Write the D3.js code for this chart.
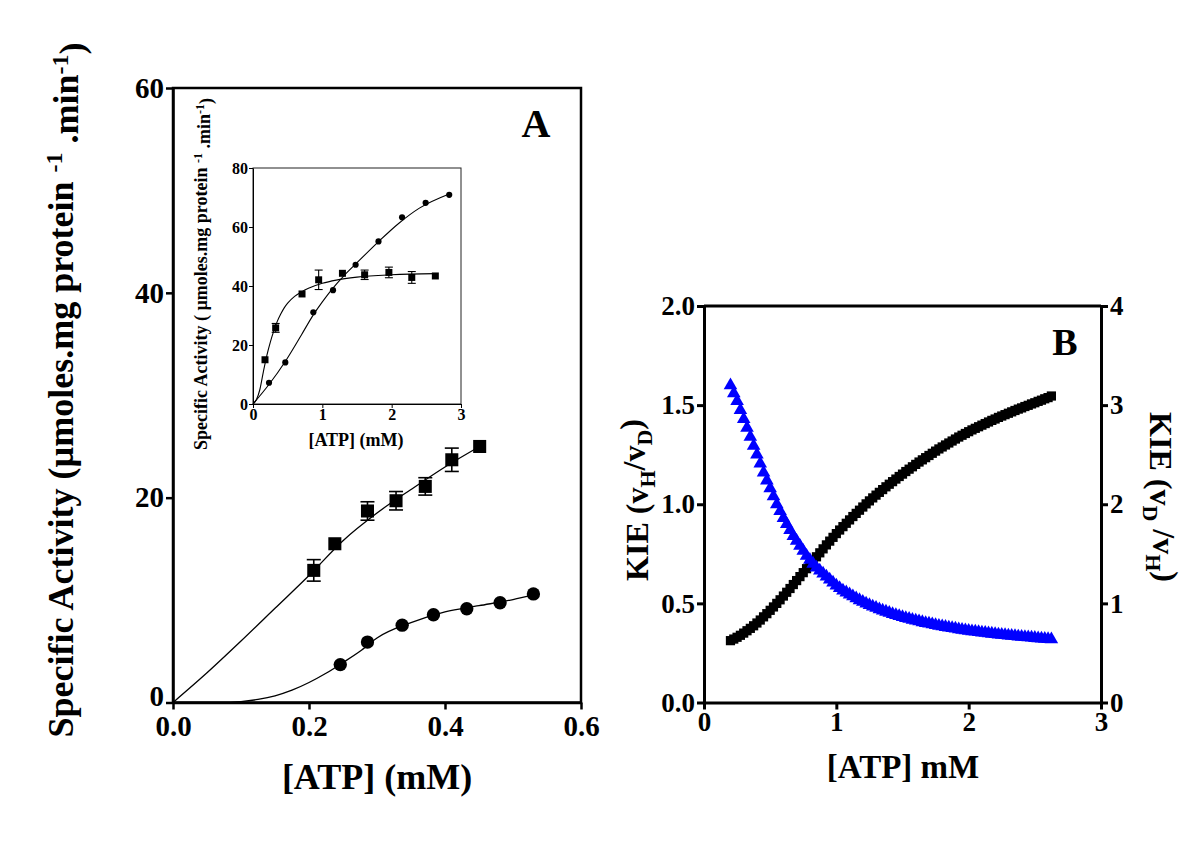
<!DOCTYPE html>
<html><head><meta charset="utf-8">
<script src="https://cdn.jsdelivr.net/npm/d3@7"></script>
<style>
body{margin:0;background:#fff}
svg{display:block}
text{font-family:"Liberation Serif","Times New Roman",serif;font-weight:bold;fill:#000}
</style>
</head><body>
<svg id="chart" width="1200" height="849"></svg>
<script>
// ---------- Panel A (main) ----------
const aSqX   = [0.207, 0.238, 0.286, 0.328, 0.371, 0.410, 0.451];
const aSqY   = [12.9, 15.5, 18.7, 19.7, 21.1, 23.7, 25.0];
const aSqErr = [1.05, 0, 0.9, 0.9, 0.85, 1.14, 0];
const aCiX   = [0.246, 0.286, 0.337, 0.383, 0.432, 0.481, 0.530];
const aCiY   = [3.7, 5.9, 7.55, 8.57, 9.15, 9.74, 10.6];
const aSqFitX = [0, 0.05, 0.10, 0.15, 0.20, 0.25, 0.30, 0.35, 0.40, 0.451];
const aSqFitY = [0, 2.9, 6.0, 9.2, 12.4, 15.8, 18.5, 20.8, 23.0, 25.0];
const aCiFitX = [0, 0.08, 0.10, 0.125, 0.15, 0.175, 0.20, 0.225, 0.25, 0.275, 0.30, 0.35, 0.40, 0.45, 0.50, 0.53];
const aCiFitY = [0, 0, 0.08, 0.3, 0.65, 1.2, 1.95, 2.85, 3.9, 5.0, 6.3, 7.8, 8.85, 9.45, 10.05, 10.5];
const aXTicks = [0, 0.2, 0.4, 0.6];
const aYTicks = [0, 20, 40, 60];

// ---------- Panel A (inset) ----------
const inSqX   = [0.173, 0.327, 0.707, 0.947, 1.29, 1.61, 1.96, 2.29, 2.63];
const inSqY   = [15.0, 25.8, 37.3, 42.1, 44.3, 43.8, 44.6, 42.9, 43.4];
const inSqErr = [0, 1.5, 0, 3.3, 0, 1.6, 1.8, 2.0, 0];
const inCiX   = [0.231, 0.466, 0.87, 1.154, 1.48, 1.81, 2.15, 2.49, 2.83];
const inCiY   = [7.2, 14.1, 31.1, 38.6, 47.2, 55.1, 63.3, 68.2, 70.9];
const inSqFitX = [0, 0.05, 0.10, 0.15, 0.20, 0.25, 0.30, 0.35, 0.40, 0.45, 0.50, 0.60, 0.70, 0.80, 1.0, 1.2, 1.5, 2.0, 2.63];
const inSqFitY = [0, 1.5, 5, 11, 16.5, 21, 24.8, 28, 30.5, 32.6, 34.2, 36.5, 38.0, 39.2, 40.9, 42.0, 43.0, 43.8, 44.2];
const inCiFitX = [0, 0.23, 0.47, 0.7, 0.87, 1.0, 1.15, 1.3, 1.5, 1.8, 2.1, 2.4, 2.83];
const inCiFitY = [0, 6.6, 14.6, 23.5, 30.2, 34.6, 39.2, 43.2, 47.9, 54.8, 61.2, 66.4, 71.2];
const inXTicks = [0, 1, 2, 3];
const inYTicks = [0, 20, 40, 60, 80];

// ---------- Panel B ----------
const bX = [0.200,0.225,0.250,0.275,0.300,0.325,0.350,0.375,0.400,0.425,0.450,0.475,0.500,0.525,0.550,0.575,0.600,0.625,0.650,0.675,0.700,0.725,0.750,0.775,0.800,0.825,0.850,0.875,0.900,0.925,0.950,0.975,
            1.000,1.025,1.050,1.075,1.100,1.125,1.150,1.175,1.200,1.225,1.250,1.275,1.300,1.325,1.350,1.375,1.400,1.425,1.450,1.475,1.500,1.525,1.550,1.575,1.600,1.625,1.650,1.675,1.700,1.725,1.750,1.775,
            1.800,1.825,1.850,1.875,1.900,1.925,1.950,1.975,2.000,2.025,2.050,2.075,2.100,2.125,2.150,2.175,2.200,2.225,2.250,2.275,2.300,2.325,2.350,2.375,2.400,2.425,2.450,2.475,2.500,2.525,2.550,2.575,2.600,2.625];
const bHD = [0.312,0.320,0.329,0.339,0.350,0.362,0.374,0.387,0.401,0.416,0.432,0.448,0.465,0.482,0.500,0.518,0.537,0.556,0.575,0.595,0.615,0.635,0.655,0.675,0.695,0.715,0.735,0.755,0.775,0.795,0.814,0.833,
             0.852,0.870,0.887,0.904,0.921,0.938,0.954,0.970,0.986,1.002,1.017,1.032,1.046,1.060,1.074,1.088,1.101,1.114,1.127,1.140,1.152,1.165,1.177,1.189,1.201,1.213,1.224,1.235,1.246,1.257,1.268,1.279,
             1.289,1.299,1.309,1.319,1.329,1.339,1.348,1.357,1.366,1.375,1.383,1.391,1.399,1.407,1.415,1.423,1.430,1.438,1.445,1.452,1.459,1.466,1.473,1.480,1.486,1.493,1.499,1.506,1.512,1.519,1.525,1.532,1.538,1.546];
const bDH = [3.20,3.12,3.04,2.95,2.86,2.77,2.68,2.59,2.50,2.41,2.32,2.24,2.16,2.08,2.00,1.93,1.86,1.80,1.74,1.68,1.63,1.58,1.53,1.48,1.44,1.40,1.36,1.33,1.30,1.27,1.24,1.21,
             1.180,1.155,1.130,1.110,1.090,1.070,1.050,1.032,1.015,0.999,0.983,0.968,0.954,0.941,0.928,0.916,0.904,0.893,0.882,0.872,0.862,0.852,0.843,0.834,0.826,0.818,0.810,0.802,0.795,0.788,0.781,0.774,
             0.768,0.762,0.756,0.750,0.745,0.739,0.734,0.729,0.724,0.719,0.715,0.710,0.706,0.702,0.698,0.694,0.690,0.686,0.683,0.679,0.676,0.672,0.669,0.666,0.663,0.660,0.657,0.654,0.651,0.648,0.645,0.642,0.640,0.637];
const bXTicks = [0, 1, 2, 3];
const bYLTicks = [0, 0.5, 1.0, 1.5, 2.0];
const bYRTicks = [0, 1, 2, 3, 4];

const svg = d3.select("#chart");

function styleAxis(g, fs, sw) {
  g.select(".domain").attr("stroke", "#000").attr("stroke-width", sw);
  g.selectAll(".tick line").attr("stroke", "#000").attr("stroke-width", sw);
  g.selectAll(".tick text").style("font-size", fs + "px").style("font-family", '"Liberation Serif","Times New Roman",serif').style("font-weight", "bold").attr("fill", "#000");
}
const zip = (xs, ys) => xs.map((x, i) => [x, ys[i]]);

// ===== Panel A main =====
const ax = d3.scaleLinear().domain([0, 0.6]).range([173, 581]);
const ay = d3.scaleLinear().domain([0, 60]).range([702.5, 88]);

svg.append("rect").attr("x", ax(0)).attr("y", ay(60)).attr("width", ax(0.6) - ax(0)).attr("height", ay(0) - ay(60))
  .attr("fill", "none").attr("stroke", "#000").attr("stroke-width", 2.5);

const gAL = svg.append("g").attr("transform", `translate(${ax(0)},0)`)
  .call(d3.axisLeft(ay).tickValues(aYTicks).tickFormat(d3.format("d")).tickSize(7).tickSizeOuter(0).tickPadding(2));
styleAxis(gAL, 29, 2.5);
gAL.selectAll(".tick text").filter(d => d === 0).attr("dy", "0.12em");
const gAB = svg.append("g").attr("transform", `translate(0,${ay(0)})`)
  .call(d3.axisBottom(ax).tickValues(aXTicks).tickFormat(d3.format(".1f")).tickSize(7).tickSizeOuter(0).tickPadding(6));
styleAxis(gAB, 29, 2.5);

const lineA = d3.line().x(d => ax(d[0])).y(d => ay(d[1])).curve(d3.curveMonotoneX);
svg.append("path").attr("d", lineA(zip(aSqFitX, aSqFitY))).attr("fill", "none").attr("stroke", "#000").attr("stroke-width", 1.3);
svg.append("path").attr("d", lineA(zip(aCiFitX, aCiFitY))).attr("fill", "none").attr("stroke", "#000").attr("stroke-width", 1.3);

zip(aSqX, aSqY).forEach((d, i) => {
  const e = aSqErr[i]; if (!e) return;
  const g = svg.append("g").attr("stroke", "#000").attr("stroke-width", 1.6);
  g.append("line").attr("x1", ax(d[0])).attr("x2", ax(d[0])).attr("y1", ay(d[1] - e)).attr("y2", ay(d[1] + e));
  [d[1] - e, d[1] + e].forEach(v => g.append("line").attr("x1", ax(d[0]) - 7).attr("x2", ax(d[0]) + 7).attr("y1", ay(v)).attr("y2", ay(v)));
});
svg.append("g").selectAll("path").data(zip(aSqX, aSqY)).join("path")
  .attr("d", d3.symbol(d3.symbolSquare, 170)()).attr("transform", d => `translate(${ax(d[0])},${ay(d[1])})`).attr("fill", "#000");
svg.append("g").selectAll("path").data(zip(aCiX, aCiY)).join("path")
  .attr("d", d3.symbol(d3.symbolCircle, 140)()).attr("transform", d => `translate(${ax(d[0])},${ay(d[1])})`).attr("fill", "#000");

svg.append("text").attr("x", 536).attr("y", 137).attr("text-anchor", "middle").style("font-size", "40px").text("A");
svg.append("text").attr("x", 377).attr("y", 789).attr("text-anchor", "middle").style("font-size", "36px").text("[ATP] (mM)");

const yLabA = svg.append("text").attr("transform", "translate(73,390) rotate(-90)").attr("text-anchor", "middle").style("font-size", "36px");
yLabA.append("tspan").text("Specific Activity (µmoles.mg protein ");
yLabA.append("tspan").attr("dy", "-0.45em").style("font-size", "24px").text("-1");
yLabA.append("tspan").attr("dy", "0.45em").text(" .min");
yLabA.append("tspan").attr("dy", "-0.45em").style("font-size", "24px").text("-1");
yLabA.append("tspan").attr("dy", "0.45em").text(")");

// ===== Inset =====
const ix = d3.scaleLinear().domain([0, 3]).range([253, 461]);
const iy = d3.scaleLinear().domain([0, 80]).range([404, 168]);
svg.append("rect").attr("x", ix(0)).attr("y", iy(80)).attr("width", ix(3) - ix(0)).attr("height", iy(0) - iy(80))
  .attr("fill", "none").attr("stroke", "#222").attr("stroke-width", 1);
const gIL = svg.append("g").attr("transform", `translate(${ix(0)},0)`)
  .call(d3.axisLeft(iy).tickValues(inYTicks).tickFormat(d3.format("d")).tickSize(4).tickSizeOuter(0).tickPadding(1));
styleAxis(gIL, 16, 1);
const gIB = svg.append("g").attr("transform", `translate(0,${iy(0)})`)
  .call(d3.axisBottom(ix).tickValues(inXTicks).tickFormat(d3.format("d")).tickSize(4).tickSizeOuter(0).tickPadding(1));
styleAxis(gIB, 16, 1);

const lineI = d3.line().x(d => ix(d[0])).y(d => iy(d[1])).curve(d3.curveMonotoneX);
svg.append("path").attr("d", lineI(zip(inSqFitX, inSqFitY))).attr("fill", "none").attr("stroke", "#000").attr("stroke-width", 1.1);
svg.append("path").attr("d", lineI(zip(inCiFitX, inCiFitY))).attr("fill", "none").attr("stroke", "#000").attr("stroke-width", 1.1);
zip(inSqX, inSqY).forEach((d, i) => {
  const e = inSqErr[i]; if (!e) return;
  const g = svg.append("g").attr("stroke", "#000").attr("stroke-width", 1.1);
  g.append("line").attr("x1", ix(d[0])).attr("x2", ix(d[0])).attr("y1", iy(d[1] - e)).attr("y2", iy(d[1] + e));
  [d[1] - e, d[1] + e].forEach(v => g.append("line").attr("x1", ix(d[0]) - 4).attr("x2", ix(d[0]) + 4).attr("y1", iy(v)).attr("y2", iy(v)));
});
svg.append("g").selectAll("path").data(zip(inSqX, inSqY)).join("path")
  .attr("d", d3.symbol(d3.symbolSquare, 49)()).attr("transform", d => `translate(${ix(d[0])},${iy(d[1])})`).attr("fill", "#000");
svg.append("g").selectAll("path").data(zip(inCiX, inCiY)).join("path")
  .attr("d", d3.symbol(d3.symbolCircle, 30)()).attr("transform", d => `translate(${ix(d[0])},${iy(d[1])})`).attr("fill", "#000");

svg.append("text").attr("x", 356).attr("y", 446).attr("text-anchor", "middle").style("font-size", "18px").text("[ATP] (mM)");
const yLabI = svg.append("text").attr("transform", "translate(207,274) rotate(-90)").attr("text-anchor", "middle").style("font-size", "18px");
yLabI.append("tspan").text("Specific Activity ( µmoles.mg protein ");
yLabI.append("tspan").attr("dy", "-0.45em").style("font-size", "12px").text("-1");
yLabI.append("tspan").attr("dy", "0.45em").text(" .min");
yLabI.append("tspan").attr("dy", "-0.45em").style("font-size", "12px").text("-1");
yLabI.append("tspan").attr("dy", "0.45em").text(")");

// ===== Panel B =====
const bx = d3.scaleLinear().domain([0, 3]).range([704, 1101]);
const byL = d3.scaleLinear().domain([0, 2]).range([702.5, 306]);
const byR = d3.scaleLinear().domain([0, 4]).range([702.5, 306]);

svg.append("line").attr("x1", bx(0)).attr("x2", bx(3)).attr("y1", byL(2)).attr("y2", byL(2)).attr("stroke", "#000").attr("stroke-width", 3);
const gBL = svg.append("g").attr("transform", `translate(${bx(0)},0)`)
  .call(d3.axisLeft(byL).tickValues(bYLTicks).tickFormat(d3.format(".1f")).tickSize(7).tickSizeOuter(0).tickPadding(2));
styleAxis(gBL, 27, 3);
const gBR = svg.append("g").attr("transform", `translate(${bx(3)},0)`)
  .call(d3.axisRight(byR).tickValues(bYRTicks).tickFormat(d3.format("d")).tickSize(7).tickSizeOuter(0).tickPadding(2));
styleAxis(gBR, 27, 3);
const gBB = svg.append("g").attr("transform", `translate(0,${byL(0)})`)
  .call(d3.axisBottom(bx).tickValues(bXTicks).tickFormat(d3.format("d")).tickSize(7).tickSizeOuter(0).tickPadding(2));
styleAxis(gBB, 27, 3);

svg.append("g").selectAll("path").data(zip(bX, bHD)).join("path")
  .attr("d", d3.symbol(d3.symbolSquare, 85)()).attr("transform", d => `translate(${bx(d[0])},${byL(d[1])})`).attr("fill", "#000");
svg.append("g").selectAll("path").data(zip(bX, bDH)).join("path")
  .attr("d", d3.symbol(d3.symbolTriangle, 80)()).attr("transform", d => `translate(${bx(d[0])},${byR(d[1])})`).attr("fill", "#0000ff");

svg.append("text").attr("x", 1065).attr("y", 355).attr("text-anchor", "middle").style("font-size", "38px").text("B");
svg.append("text").attr("x", 903).attr("y", 778).attr("text-anchor", "middle").style("font-size", "33px").text("[ATP] mM");

const yLabBL = svg.append("text").attr("transform", "translate(648,500) rotate(-90)").attr("text-anchor", "middle").style("font-size", "32px");
yLabBL.append("tspan").text("KIE (v");
yLabBL.append("tspan").attr("dy", "0.3em").style("font-size", "22px").text("H");
yLabBL.append("tspan").attr("dy", "-0.3em").text("/v");
yLabBL.append("tspan").attr("dy", "0.3em").style("font-size", "22px").text("D");
yLabBL.append("tspan").attr("dy", "-0.3em").text(")");

const yLabBR = svg.append("text").attr("transform", "translate(1150,497) rotate(90)").attr("text-anchor", "middle").style("font-size", "32px");
yLabBR.append("tspan").text("KIE (v");
yLabBR.append("tspan").attr("dy", "0.3em").style("font-size", "22px").text("D");
yLabBR.append("tspan").attr("dy", "-0.3em").text(" /v");
yLabBR.append("tspan").attr("dy", "0.3em").style("font-size", "22px").text("H");
yLabBR.append("tspan").attr("dy", "-0.3em").text(")");
</script>
</body></html>
